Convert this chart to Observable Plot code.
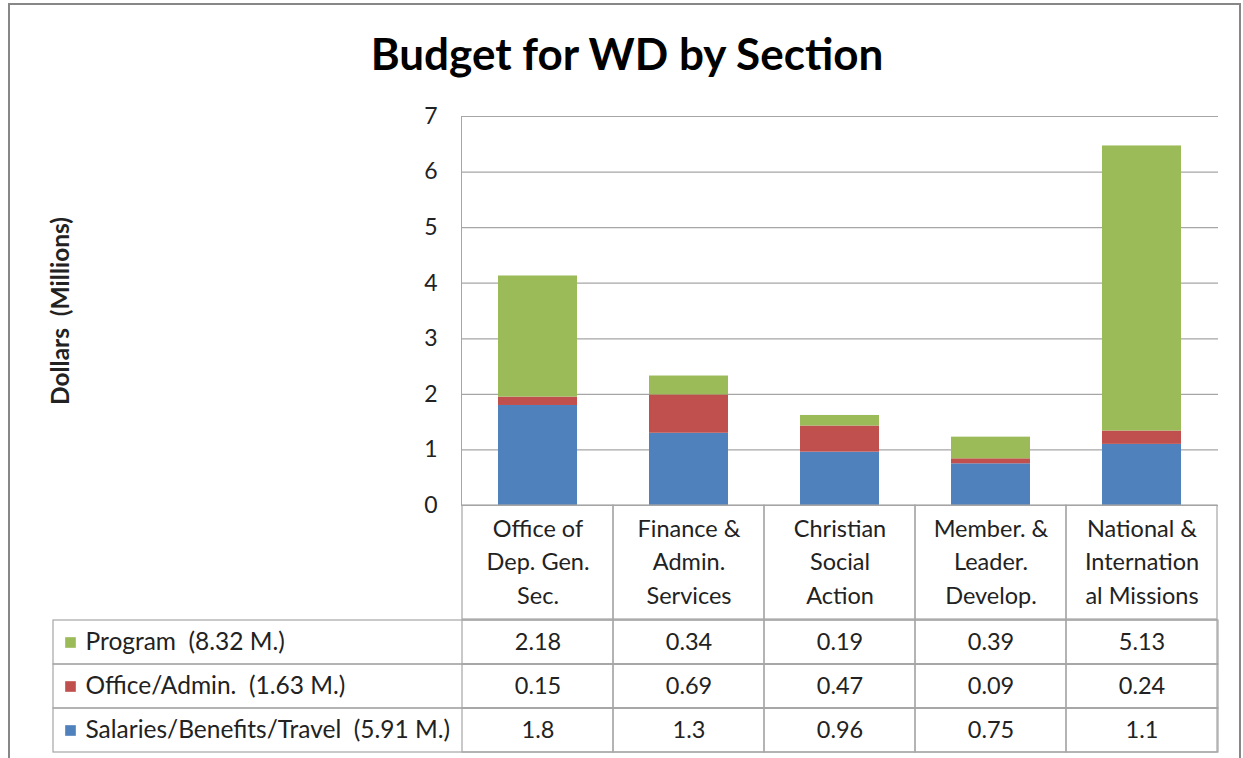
<!DOCTYPE html>
<html>
<head>
<meta charset="utf-8">
<script src="https://cdn.jsdelivr.net/npm/d3@7"></script>
<script src="https://cdn.jsdelivr.net/npm/@observablehq/plot@0.6"></script>
<style>
  html, body { margin: 0; padding: 0; background: #fff; }
  #root { position: relative; width: 1243px; height: 758px; overflow: hidden; font-family: Lato, "Open Sans", sans-serif; }
  #border { position: absolute; left: 8px; top: 3px; width: 1233px; height: 820px; border: 2px solid #878787; box-sizing: border-box; }
  #title { position: absolute; left: 0; top: 27px; width: 1254px; text-align: center; font: bold 44px Lato, sans-serif; color: #000; }
  .layer { position: absolute; left: 0; }
  .layer svg { display: block; overflow: visible; color: #a6a6a6; }
  .layer svg text { fill: #222; white-space: pre; }
</style>
</head>
<body>
<div id="root">
  <div id="border"></div>
  <div id="title">Budget for WD by Section</div>
  <div id="chart" class="layer" style="top:0px"></div>
  <div id="header" class="layer" style="top:504px"></div>
  <div id="table" class="layer" style="top:618px"></div>
</div>
<script>
// ---- data ----
const categories = [
  "Office of\nDep. Gen.\nSec.",
  "Finance &\nAdmin.\nServices",
  "Christian\nSocial\nAction",
  "Member. &\nLeader.\nDevelop.",
  "National &\nInternation\nal Missions"
];
const seriesNames = ["Salaries/Benefits/Travel", "Office/Admin.", "Program"];
const seriesLabels = ["Salaries/Benefits/Travel \u00a0(5.91 M.)", "Office/Admin. \u00a0(1.63 M.)", "Program \u00a0(8.32 M.)"];
const salaries = [1.8, 1.3, 0.96, 0.75, 1.1];
const office = [0.15, 0.69, 0.47, 0.09, 0.24];
const program = [2.18, 0.34, 0.19, 0.39, 5.13];
const seriesColors = ["#4f81bd", "#c0504d", "#9bbb59"];
const yTicks = [0, 1, 2, 3, 4, 5, 6, 7];
const yLabel = "Dollars \u00a0(Millions)";

// ---- derived table ----
const valuesBySeries = [salaries, office, program];
const rows = [];
seriesNames.forEach((s, si) => categories.forEach((c, ci) => rows.push({series: s, category: c, value: valuesBySeries[si][ci]})));
const tableOrder = [...seriesNames].reverse(); // Program on top
const labelOf = Object.fromEntries(seriesNames.map((s, i) => [s, seriesLabels[i]]));

const gridColor = "#a6a6a6";
const W = 1243;

// ---- chart ----
const chart = Plot.plot({
  width: W, height: 506,
  marginTop: 116, marginBottom: 1, marginLeft: 461, marginRight: 25,
  style: {fontFamily: "Lato, sans-serif", fontSize: "23px", background: "transparent"},
  x: {domain: categories, paddingInner: 0.48, paddingOuter: 0.24, axis: null},
  y: {domain: [0, 7], ticks: yTicks, tickSize: 0, tickPadding: 24, line: true, label: null, tickFormat: d => String(d)},
  color: {domain: seriesNames, range: seriesColors},
  marks: [
    Plot.ruleY(yTicks, {stroke: gridColor, strokeWidth: 1.2}),
    Plot.barY(rows, {x: "category", y: "value", fill: "series", order: seriesNames}),
    Plot.text([yLabel], {text: d => d, frameAnchor: "left", rotate: -90, dx: -400, textAnchor: "middle", fontWeight: "bold", fontSize: 24.5})
  ]
});
document.getElementById("chart").append(chart);

// ---- header row (category names) ----
const header = Plot.plot({
  width: W, height: 116,
  marginTop: 1, marginBottom: 1, marginLeft: 461, marginRight: 25,
  style: {fontFamily: "Lato, sans-serif", fontSize: "23.5px", background: "transparent"},
  x: {domain: categories, padding: 0, axis: null},
  marks: [
    Plot.cell(categories, {x: d => d, fill: "none", stroke: gridColor, strokeWidth: 1.2}),
    Plot.text(categories, {x: d => d, text: d => d, lineHeight: 1.42, dy: -3, fill: "#222"})
  ]
});
document.getElementById("header").append(header);

// ---- data table ----
const table = Plot.plot({
  width: W, height: 135,
  marginTop: 1, marginBottom: 1, marginLeft: 53, marginRight: 25,
  style: {fontFamily: "Lato, sans-serif", fontSize: "23.5px", background: "transparent"},
  x: {domain: categories, range: [461, 1218], padding: 0, axis: null},
  y: {domain: tableOrder, padding: 0, axis: null},
  color: {domain: seriesNames, range: seriesColors},
  marks: [
    Plot.cell(tableOrder, {y: d => d, fill: "none", stroke: gridColor, strokeWidth: 1.2}),
    Plot.cell(rows, {x: "category", y: "series", fill: "none", stroke: gridColor, strokeWidth: 1.2}),
    Plot.text(rows, {x: "category", y: "series", text: "value", fill: "#222"}),
    Plot.dot(tableOrder, {y: d => d, frameAnchor: "left", dx: 17, symbol: "square", r: 6, fill: d => d}),
    Plot.text(tableOrder, {y: d => d, text: d => labelOf[d], frameAnchor: "left", textAnchor: "start", dx: 32, fontSize: 24.5, fill: "#222"})
  ]
});
document.getElementById("table").append(table);
</script>
</body>
</html>
